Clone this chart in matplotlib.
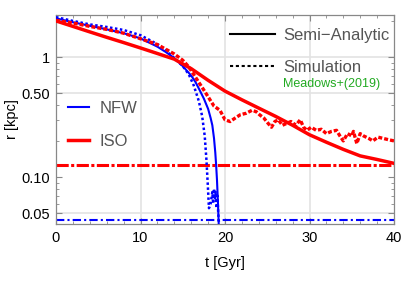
import matplotlib
matplotlib.use('Agg')
import matplotlib.pyplot as plt
from matplotlib.lines import Line2D
from matplotlib.ticker import LogLocator, MultipleLocator, NullFormatter

plt.rcParams['font.family'] = ['Liberation Sans', 'DejaVu Sans']

# semi-analytic NFW
t_nfw = [0, 2, 4, 6, 8, 10, 12, 13, 14, 15, 16, 16.5, 17, 17.5, 18, 18.3, 18.5,
         18.7, 18.85, 18.95, 19.05, 19.15, 19.25, 19.3]
r_nfw = [2.1, 1.95, 1.82, 1.7, 1.58, 1.43, 1.22, 1.1, 0.98, 0.84, 0.7, 0.62, 0.53,
         0.45, 0.37, 0.31, 0.27, 0.21, 0.16, 0.126, 0.095, 0.065, 0.042, 0.03]

# simulation NFW
t_nfw_sim = [0, 2, 4, 6, 8, 10, 12, 13, 14, 15, 15.7, 16.3, 16.9, 17.3, 17.6, 17.8,
             17.95, 18.1, 18.3, 18.5, 18.6, 18.7, 18.8, 18.9, 19.0, 19.1, 19.2, 19.3]
r_nfw_sim = [2.15, 2.0, 1.87, 1.78, 1.68, 1.52, 1.28, 1.14, 0.98, 0.84, 0.72, 0.58,
             0.43, 0.32, 0.22, 0.14, 0.09, 0.055, 0.06, 0.075, 0.06, 0.08, 0.065,
             0.075, 0.055, 0.07, 0.05, 0.04]

# semi-analytic ISO
t_iso = [0, 2, 4, 6, 8, 10, 12, 14, 16, 18, 20, 22, 24, 26, 28, 30, 32, 34, 36, 38, 40]
r_iso = [2.0, 1.8, 1.62, 1.46, 1.32, 1.19, 1.07, 0.96, 0.8, 0.64, 0.52, 0.44, 0.375,
         0.32, 0.27, 0.225, 0.195, 0.17, 0.15, 0.14, 0.13]

# simulation ISO
t_iso_sim = [0, 2, 4, 6, 8, 10, 12, 14, 15, 15.7, 16.5, 17.5, 18.7, 19.4, 20.0, 20.6,
             21.2, 21.8, 22.5, 23.2, 23.7, 24.1, 24.6, 25.1, 25.5, 25.9, 26.3, 26.8,
             27.3, 27.8, 28.4, 28.9, 29.3, 29.7, 30.2, 30.8, 31.4, 32.0, 32.6, 33.2,
             33.6, 34.0, 34.5, 35.0, 35.2, 35.6, 36.0, 36.4, 37.0, 37.5, 38.1, 38.7,
             39.3, 40.0]
r_iso_sim = [2.02, 1.92, 1.8, 1.7, 1.58, 1.42, 1.27, 1.06, 0.94, 0.83, 0.68, 0.53,
             0.39, 0.36, 0.30, 0.29, 0.31, 0.33, 0.34, 0.36, 0.35, 0.33, 0.31, 0.28,
             0.26, 0.29, 0.30, 0.27, 0.28, 0.29, 0.27, 0.30, 0.26, 0.245, 0.26, 0.245,
             0.25, 0.23, 0.24, 0.245, 0.22, 0.20, 0.23, 0.22, 0.24, 0.19, 0.23, 0.22,
             0.21, 0.20, 0.215, 0.21, 0.205, 0.20]

# core radii
r_core_iso = 0.126
r_core_nfw = 0.0435

x_ticks = [0, 10, 20, 30, 40]
y_ticks = [0.05, 0.1, 0.5, 1]
y_labels = ['0.05', '0.10', '0.50', '1']
grid_t = [10, 20, 30]
grid_r = [0.05, 0.5, 1]

blue = '#0000ff'
red = '#ff0000'

fig = plt.figure(figsize=(4.07, 3.05), dpi=100)
ax = fig.add_axes([56/407, 81/305, 338/407, 209/305])

for g in grid_t:
    ax.axvline(g, color='#e3e3e3', lw=1.2, zorder=0)
for g in grid_r:
    ax.axhline(g, color='#e3e3e3', lw=1.2, zorder=0)

ax.axhline(r_core_iso, color=red, lw=2.2, ls=(0, (4, 0.8, 1, 0.8)), zorder=2)
ax.axhline(r_core_nfw, color=blue, lw=1.5, ls=(0, (4, 1.5, 1, 1.5)), zorder=2)

ax.plot(t_nfw, r_nfw, color=blue, lw=1.5, zorder=3)
ax.plot(t_nfw_sim, r_nfw_sim, color=blue, lw=1.8, ls=(0, (1, 1)), zorder=3)
ax.plot(t_iso, r_iso, color=red, lw=2.5, zorder=4)
ax.plot(t_iso_sim, r_iso_sim, color=red, lw=2.4, ls=(0, (1.2, 0.6)), zorder=4)

ax.set_yscale('log')
ax.set_xlim(0, 40)
ax.set_ylim(0.0406, 2.24)
ax.set_xticks(x_ticks)
ax.set_yticks(y_ticks)
ax.set_yticklabels(y_labels)
ax.xaxis.set_minor_locator(MultipleLocator(2))
ax.yaxis.set_minor_locator(LogLocator(subs=range(2, 10)))
ax.yaxis.set_minor_formatter(NullFormatter())
ax.tick_params(which='both', direction='in', top=True, right=True, color='#888888',
               labelsize=10.5, labelcolor='black')
ax.tick_params(which='major', length=4, width=0.8)
ax.tick_params(which='minor', length=2, width=0.6)
ax.tick_params(axis='x', pad=5)
ax.tick_params(axis='y', pad=4)
for s in ax.spines.values():
    s.set_color('#888888')
    s.set_linewidth(0.9)

ax.set_xlabel('t [Gyr]', fontsize=10.5, labelpad=8)
ax.set_ylabel('r [kpc]', fontsize=10.5, labelpad=2)

h1 = [Line2D([], [], color=blue, lw=1.5), Line2D([], [], color=red, lw=2.5)]
leg1 = ax.legend(h1, ['NFW', 'ISO'], loc='upper left', bbox_to_anchor=(0.035, 0.59),
                 frameon=False, fontsize=12, handlelength=1.3, handletextpad=0.6,
                 labelspacing=1.1, borderpad=0, borderaxespad=0, labelcolor='#555555')
ax.add_artist(leg1)

h2 = [Line2D([], [], color='black', lw=1.5),
      Line2D([], [], color='black', lw=1.5, ls=(0, (1.5, 1.3)))]
ax.legend(h2, ['Semi\u2212Analytic', 'Simulation'], loc='upper left',
          bbox_to_anchor=(0.515, 0.94), frameon=False, fontsize=12, handlelength=2.7,
          handletextpad=0.5, labelspacing=1.05, borderpad=0, borderaxespad=0,
          labelcolor='#555555')

ax.text(0.672, 0.668, 'Meadows+(2019)', transform=ax.transAxes, color='#22aa22',
        fontsize=9, va='center', ha='left')

fig.savefig('out.png', dpi=100)
